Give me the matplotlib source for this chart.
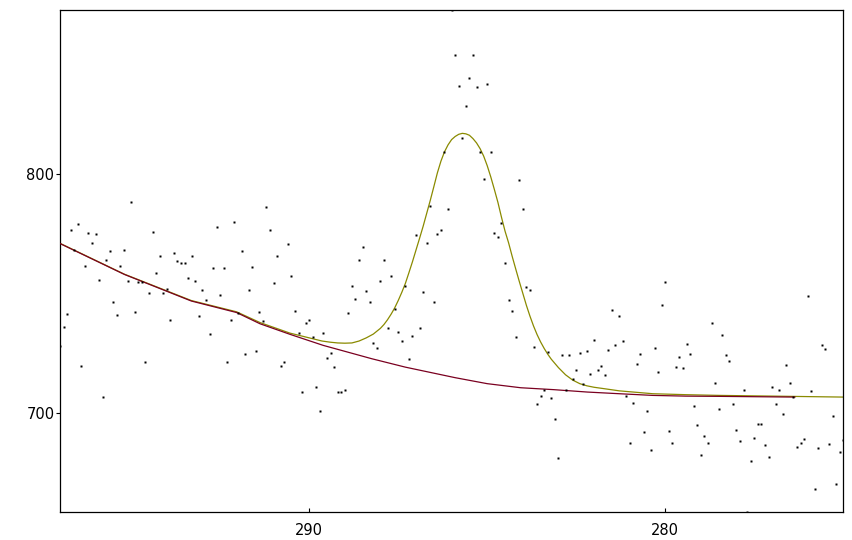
import matplotlib
matplotlib.use("Agg")
import matplotlib.pyplot as plt

# binding energy grid (eV) of the measured spectrum, high to low
ENERGY = [
    297.0, 296.9, 296.8, 296.7, 296.6, 296.5, 296.4, 296.3, 296.2, 296.1,
    296.0, 295.9, 295.8, 295.7, 295.6, 295.5, 295.4, 295.3, 295.2, 295.1,
    295.0, 294.9, 294.8, 294.7, 294.6, 294.5, 294.4, 294.3, 294.2, 294.1,
    294.0, 293.9, 293.8, 293.7, 293.6, 293.5, 293.4, 293.3, 293.2, 293.1,
    293.0, 292.9, 292.8, 292.7, 292.6, 292.5, 292.4, 292.3, 292.2, 292.1,
    292.0, 291.9, 291.8, 291.7, 291.6, 291.5, 291.4, 291.3, 291.2, 291.1,
    291.0, 290.9, 290.8, 290.7, 290.6, 290.5, 290.4, 290.3, 290.2, 290.1,
    290.0, 289.9, 289.8, 289.7, 289.6, 289.5, 289.4, 289.3, 289.2, 289.1,
    289.0, 288.9, 288.8, 288.7, 288.6, 288.5, 288.4, 288.3, 288.2, 288.1,
    288.0, 287.9, 287.8, 287.7, 287.6, 287.5, 287.4, 287.3, 287.2, 287.1,
    287.0, 286.9, 286.8, 286.7, 286.6, 286.5, 286.4, 286.3, 286.2, 286.1,
    286.0, 285.9, 285.8, 285.7, 285.6, 285.5, 285.4, 285.3, 285.2, 285.1,
    285.0, 284.9, 284.8, 284.7, 284.6, 284.5, 284.4, 284.3, 284.2, 284.1,
    284.0, 283.9, 283.8, 283.7, 283.6, 283.5, 283.4, 283.3, 283.2, 283.1,
    283.0, 282.9, 282.8, 282.7, 282.6, 282.5, 282.4, 282.3, 282.2, 282.1,
    282.0, 281.9, 281.8, 281.7, 281.6, 281.5, 281.4, 281.3, 281.2, 281.1,
    281.0, 280.9, 280.8, 280.7, 280.6, 280.5, 280.4, 280.3, 280.2, 280.1,
    280.0, 279.9, 279.8, 279.7, 279.6, 279.5, 279.4, 279.3, 279.2, 279.1,
    279.0, 278.9, 278.8, 278.7, 278.6, 278.5, 278.4, 278.3, 278.2, 278.1,
    278.0, 277.9, 277.8, 277.7, 277.6, 277.5, 277.4, 277.3, 277.2, 277.1,
    277.0, 276.9, 276.8, 276.7, 276.6, 276.5, 276.4, 276.3, 276.2, 276.1,
    276.0, 275.9, 275.8, 275.7, 275.6, 275.5, 275.4, 275.3, 275.2, 275.1,
    275.0,
]

# measured counts, same order as ENERGY
COUNTS = [
    727.9, 735.9, 741.4, 776.3, 768.3, 779.0, 719.6, 761.4, 775.2, 771.0,
    774.8, 755.6, 706.7, 763.9, 767.7, 746.4, 740.9, 761.4, 768.1, 755.1,
    788.1, 742.2, 754.7, 754.7, 721.3, 750.1, 775.6, 758.5, 765.6, 750.1,
    751.8, 738.8, 766.8, 763.5, 762.7, 762.7, 756.4, 765.6, 755.1, 740.5,
    751.3, 747.1, 733.0, 760.6, 777.6, 749.2, 760.6, 721.3, 738.8, 779.8,
    741.8, 767.7, 724.6, 751.3, 761.0, 725.9, 742.2, 738.4, 786.0, 776.4,
    754.3, 765.6, 719.6, 721.3, 770.6, 757.2, 742.6, 733.3, 708.8, 737.6,
    738.8, 731.6, 710.9, 700.8, 733.4, 723.0, 725.1, 719.2, 708.8, 708.8,
    709.8, 741.8, 753.0, 747.6, 763.9, 769.3, 751.0, 746.4, 729.2, 727.2,
    755.1, 763.9, 735.5, 757.2, 743.4, 733.8, 730.1, 753.0, 722.6, 732.2,
    774.4, 735.5, 750.5, 771.0, 786.5, 746.4, 774.8, 776.4, 809.0, 785.2,
    868.3, 849.5, 836.6, 814.9, 828.2, 839.9, 849.5, 836.2, 809.0, 797.7,
    837.4, 809.0, 775.2, 773.5, 779.4, 762.7, 747.2, 742.6, 731.7, 797.3,
    785.2, 752.6, 751.4, 727.6, 703.8, 707.1, 709.6, 725.5, 706.3, 697.5,
    681.2, 724.2, 709.6, 724.2, 714.2, 718.0, 725.1, 712.1, 725.9, 716.3,
    730.7, 718.0, 719.6, 715.9, 726.3, 743.0, 728.4, 740.5, 730.1, 707.1,
    687.5, 704.2, 720.5, 724.6, 692.1, 700.8, 684.5, 727.2, 717.1, 745.1,
    754.7, 692.5, 687.5, 719.2, 723.4, 718.8, 728.8, 724.6, 702.9, 695.0,
    682.5, 690.4, 687.5, 737.6, 712.5, 701.7, 732.6, 724.2, 721.7, 703.8,
    692.9, 688.3, 709.6, 658.6, 680.0, 689.6, 695.4, 695.4, 686.6, 681.6,
    710.9, 703.8, 709.6, 699.6, 720.1, 712.5, 706.9, 685.8, 687.5, 689.1,
    748.9, 709.2, 668.3, 685.4, 728.4, 726.7, 687.1, 698.8, 670.3, 683.7,
    688.7,
]

# background curve
BG_E = [297.00, 295.19, 293.31, 292.04, 291.38, 290.54, 289.61, 288.24, 287.30,
        285.90, 285.00, 284.06, 283.13, 282.19, 281.29, 280.35, 279.42, 278.48,
        276.36]
BG_I = [770.8, 757.9, 746.8, 742.0, 737.3, 732.9, 728.3, 722.7, 719.2,
        714.8, 712.3, 710.6, 709.8, 708.8, 708.1, 707.4, 707.1, 707.0,
        706.7]

# fitted envelope (background + peak)
ENV_E = [297.00, 295.19, 293.31, 292.04, 291.38, 290.54, 289.64, 289.4, 289.2,
         289.0, 288.8, 288.6, 288.4, 288.2, 288.0, 287.9, 287.8, 287.7,
         287.6, 287.5, 287.4, 287.3, 287.2, 287.1, 287.0, 286.9, 286.8,
         286.7, 286.6, 286.5, 286.4, 286.3, 286.2, 286.1, 286.0, 285.9,
         285.8, 285.7, 285.6, 285.5, 285.4, 285.3, 285.2, 285.1, 285.0,
         284.9, 284.8, 284.7, 284.6, 284.5, 284.4, 284.3, 284.2, 284.1,
         284.0, 283.9, 283.8, 283.7, 283.6, 283.5, 283.4, 283.3, 283.2,
         283.0, 282.8, 282.6, 282.4, 282.2, 282.0, 281.76, 281.29, 280.35,
         279.42, 278.48, 275.00]
ENV_I = [770.9, 758.0, 747.0, 742.3, 737.8, 733.4, 730.1, 729.6, 729.3,
         729.2, 729.3, 730.1, 731.4, 733.0, 735.4, 737.0, 739.0, 741.3,
         743.9, 747.0, 750.4, 754.1, 758.6, 763.2, 768.1, 773.0, 778.0,
         783.4, 788.8, 794.5, 800.3, 805.2, 809.1, 812.0, 814.2, 815.5,
         816.4, 816.8, 816.6, 816.0, 814.6, 812.8, 810.4, 807.3, 803.3,
         798.6, 793.4, 788.0, 781.8, 776.0, 771.1, 765.5, 760.2, 755.0,
         750.0, 745.0, 740.5, 736.4, 732.8, 729.7, 727.0, 724.6, 722.5,
         719.0, 716.0, 713.8, 712.3, 711.4, 710.8, 710.3, 709.3, 708.1,
         707.7, 707.4, 706.7]

fig = plt.figure(figsize=(8.53, 5.40), dpi=100)
ax = fig.add_axes([0.0703, 0.0513, 0.9183, 0.9302])

ax.plot(ENV_E, ENV_I, "-", color="#8a8a00", lw=0.9, zorder=2)
ax.plot(BG_E, BG_I, "-", color="#7a0020", lw=0.9, zorder=3)
ax.plot(ENERGY, COUNTS, "s", ms=1.9, mec="none", mfc="black", zorder=4)

ax.set_xlim(max(ENERGY), min(ENERGY))
ax.set_ylim(min(COUNTS), max(COUNTS))
ax.set_xticks([290, 280])
ax.set_yticks([700, 800])
ax.tick_params(axis="x", direction="in", length=3, width=0.8, pad=8, labelsize=10.5)
ax.tick_params(axis="y", direction="out", length=3, width=0.8, pad=1, labelsize=10.5)
for s in ax.spines.values():
    s.set_linewidth(0.9)
    s.set_color("black")

fig.savefig("out.png", dpi=100)
